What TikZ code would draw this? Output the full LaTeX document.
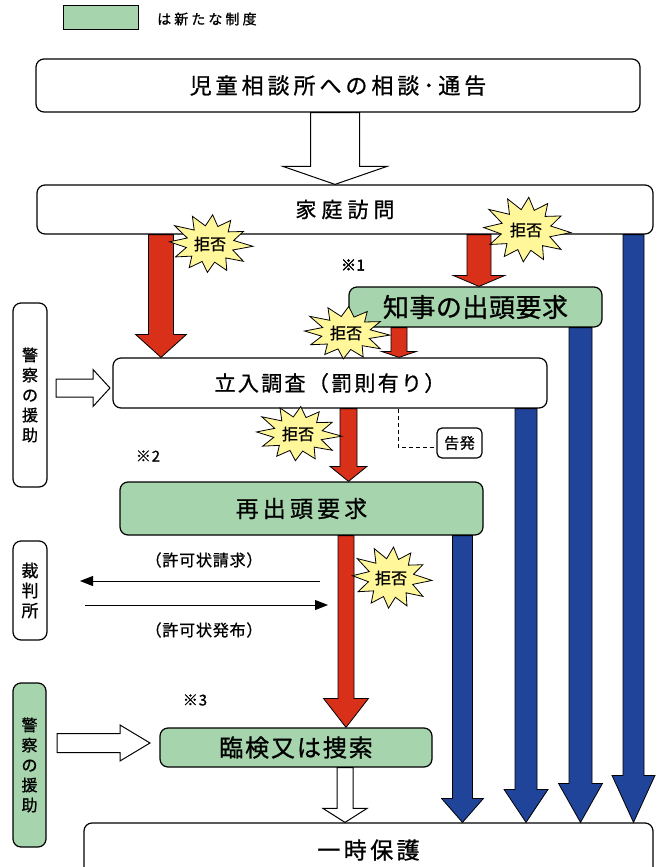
\documentclass[tikz,border=0pt]{standalone}
\usepackage{fontspec}
\setmainfont{Noto Sans CJK JP}
\usetikzlibrary{calc,arrows.meta}
\definecolor{redA}{RGB}{217,48,25}
\definecolor{blueA}{RGB}{31,68,153}
\definecolor{greenA}{RGB}{166,212,173}
\definecolor{yelA}{RGB}{255,247,153}
\newcommand\fs[2]{\fontsize{#1}{#1}\selectfont\addfontfeature{LetterSpace=#2,FakeBold=0.9}}
% downward block arrow: style, x, from node, to node, shaft half width, head half width, head length
\newcommand\dnarrow[7]{%
  \path[#1] let \p1=(#2,0 |- #3.south), \p2=(#2,0 |- #4.north) in
   (\x1-#5pt,\y1) -- (\x1-#5pt,\y2+#7pt) -- (\x1-#6pt,\y2+#7pt) -- (\x1,\y2)
   -- (\x1+#6pt,\y2+#7pt) -- (\x1+#5pt,\y2+#7pt) -- (\x1+#5pt,\y1) -- cycle;}
% rightward block arrow: style, from coord, to coord, shaft half height, head half height, head length
\newcommand\rtarrow[6]{%
  \path[#1] let \p1=(#2), \p2=(#3) in
   (\x1,\y1+#4pt) -- (\x2-#6pt,\y1+#4pt) -- (\x2-#6pt,\y1+#5pt) -- (\x2,\y1)
   -- (\x2-#6pt,\y1-#5pt) -- (\x2-#6pt,\y1-#4pt) -- (\x1,\y1-#4pt) -- cycle;}
% starburst: name, cx, cy, rx, ry
\newcommand\burst[5]{%
  \filldraw[burstshape] plot[variable=\k, samples at={0,...,23}]
    ({#2+#4*ifthenelse(mod(\k,2)==0,1-0.14*abs(sin(\k*77)),0.56)*cos(\k*15+4)},
     {#3+#5*ifthenelse(mod(\k,2)==0,1-0.14*abs(sin(\k*77)),0.56)*sin(\k*15+4)}) -- cycle;
  \node[bursttext] (#1) at (#2,#3) {拒否};}
\begin{document}
\begin{tikzpicture}[x=1pt,y=-1pt,
  box/.style={draw=black, line width=1.2pt, rounded corners=8pt, fill=white, inner sep=0pt},
  gbox/.style={box, fill=greenA},
  redarr/.style={fill=redA, draw=black, line width=0.8pt},
  bluearr/.style={fill=blueA, draw=black, line width=0.8pt},
  hollow/.style={fill=white, draw=black, line width=1pt},
  burstshape/.style={fill=yelA, draw=black, line width=0.8pt},
  bursttext/.style={font=\fs{16}{2}, inner sep=0pt},
  note/.style={font=\fs{15}{6}, inner sep=0pt},
  vtext/.style={align=center, font=\fontsize{16}{20}\selectfont\addfontfeature{FakeBold=0.9}},
  thinarr/.style={line width=1pt, -{Triangle[length=13pt,width=10pt]}}
]
\clip (0,0) rectangle (658,867);
\fill[white] (0,0) rectangle (658,867);

% legend
\node[draw=black, line width=1pt, fill=greenA, minimum width=75pt, minimum height=24pt, inner sep=0pt] (legend) at (100.5,18) {};
\node[anchor=west, font=\fs{14}{22}, inner sep=0pt] (legendtext) at (157,19) {は新たな制度};

% boxes
\node[box, minimum width=604pt, minimum height=53pt, font=\fs{22}{18}] (top) at (338,85.5) {児童相談所への相談･通告};
\node[box, minimum width=616pt, minimum height=49pt, font=\fs{21}{24}] (visit) at (345,209.5) {家庭訪問};
\node[gbox, minimum width=253pt, minimum height=40pt, font=\fs{26}{2}] (gov) at (475.5,307) {知事の出頭要求};
\node[box, minimum width=434pt, minimum height=50pt, font=\fs{21}{11}] (inspect) at (330,383) {立入調査（罰則有り）};
\node[box, minimum width=34pt, minimum height=184pt, vtext] (police1) at (30,395) {警\\察\\の\\援\\助};
\node[box, rounded corners=5pt, minimum width=45pt, minimum height=30pt, font=\fs{15}{4}] (kokuhatsu) at (459.5,443) {告発};
\node[gbox, minimum width=363pt, minimum height=53pt, font=\fs{23}{18}] (resum) at (301.5,508.5) {再出頭要求};
\node[box, minimum width=34pt, minimum height=99pt, vtext, font=\fontsize{17}{20}\selectfont\addfontfeature{FakeBold=0.9}] (court) at (30,590.5) {裁\\判\\所};
\node[gbox, minimum width=33pt, minimum height=164pt, vtext] (police2) at (29.5,765) {警\\察\\の\\援\\助};
\node[gbox, minimum width=272pt, minimum height=39pt, font=\fs{24}{8}] (search) at (296,747.5) {臨検又は捜索};
\node[box, minimum width=569pt, minimum height=54pt, font=\fs{23}{15}] (temp) at (368.5,850) {一時保護};

% notes
\node[note, font=\fontsize{15}{15}\selectfont\addfontfeature{LetterSpace=4,FakeBold=3}] (n1) at (353,265) {※1};
\node[note] (n2) at (148,456) {※2};
\node[note] (n3) at (195,700) {※3};
\node[font=\fs{16}{5}, inner sep=0pt] (req) at (204,560) {（許可状請求）};
\node[font=\fs{16}{5}, inner sep=0pt] (iss) at (204,630) {（許可状発布）};

% court arrows
\coordinate (reqA) at (320,581);
\coordinate (reqB) at (80,581);
\coordinate (issA) at (85,605);
\coordinate (issB) at (328,605);
\draw[thinarr] (reqA) -- (reqB);
\draw[thinarr] (issA) -- (issB);

% dashed link to 告発
\draw[dashed, dash pattern=on 4pt off 3pt, line width=1pt] (398,0 |- inspect.south) |- ($(kokuhatsu.west)+(0,4)$);

% hollow arrows
\dnarrow{hollow}{335}{top}{visit}{24.5}{52}{18}
\dnarrow{hollow}{345}{search}{temp}{8}{22}{14}
\coordinate (p1a) at (56,388);
\coordinate (p1b) at (110,388);
\coordinate (p2a) at (57,743);
\coordinate (p2b) at (150,743);
\rtarrow{hollow}{p1a}{p1b}{9}{18.5}{17}
\rtarrow{hollow}{p2a}{p2b}{9.5}{18}{30}

% blue arrows
\dnarrow{bluearr}{462.5}{resum}{temp}{10}{21}{24}
\dnarrow{bluearr}{526}{inspect}{temp}{11}{22}{33}
\dnarrow{bluearr}{580.5}{gov}{temp}{11.5}{22}{39}
\dnarrow{bluearr}{633.5}{visit}{temp}{10.5}{21.5}{47}

% red arrows
\dnarrow{redarr}{161}{visit}{inspect}{12.5}{25.5}{23}
\dnarrow{redarr}{479}{visit}{gov}{12}{26}{11}
\dnarrow{redarr}{399}{gov}{inspect}{8}{17.5}{6}
\dnarrow{redarr}{348.5}{inspect}{resum}{8.5}{18.5}{15}
\dnarrow{redarr}{346}{resum}{search}{8}{22.5}{29}

% starbursts
\burst{b1}{210}{244}{43}{33}
\burst{b2}{526}{230}{45}{37}
\burst{b3}{346}{333}{44}{30}
\burst{b4}{298}{434}{44}{31}
\burst{b5}{391}{578}{41}{35}
\end{tikzpicture}
\end{document}
